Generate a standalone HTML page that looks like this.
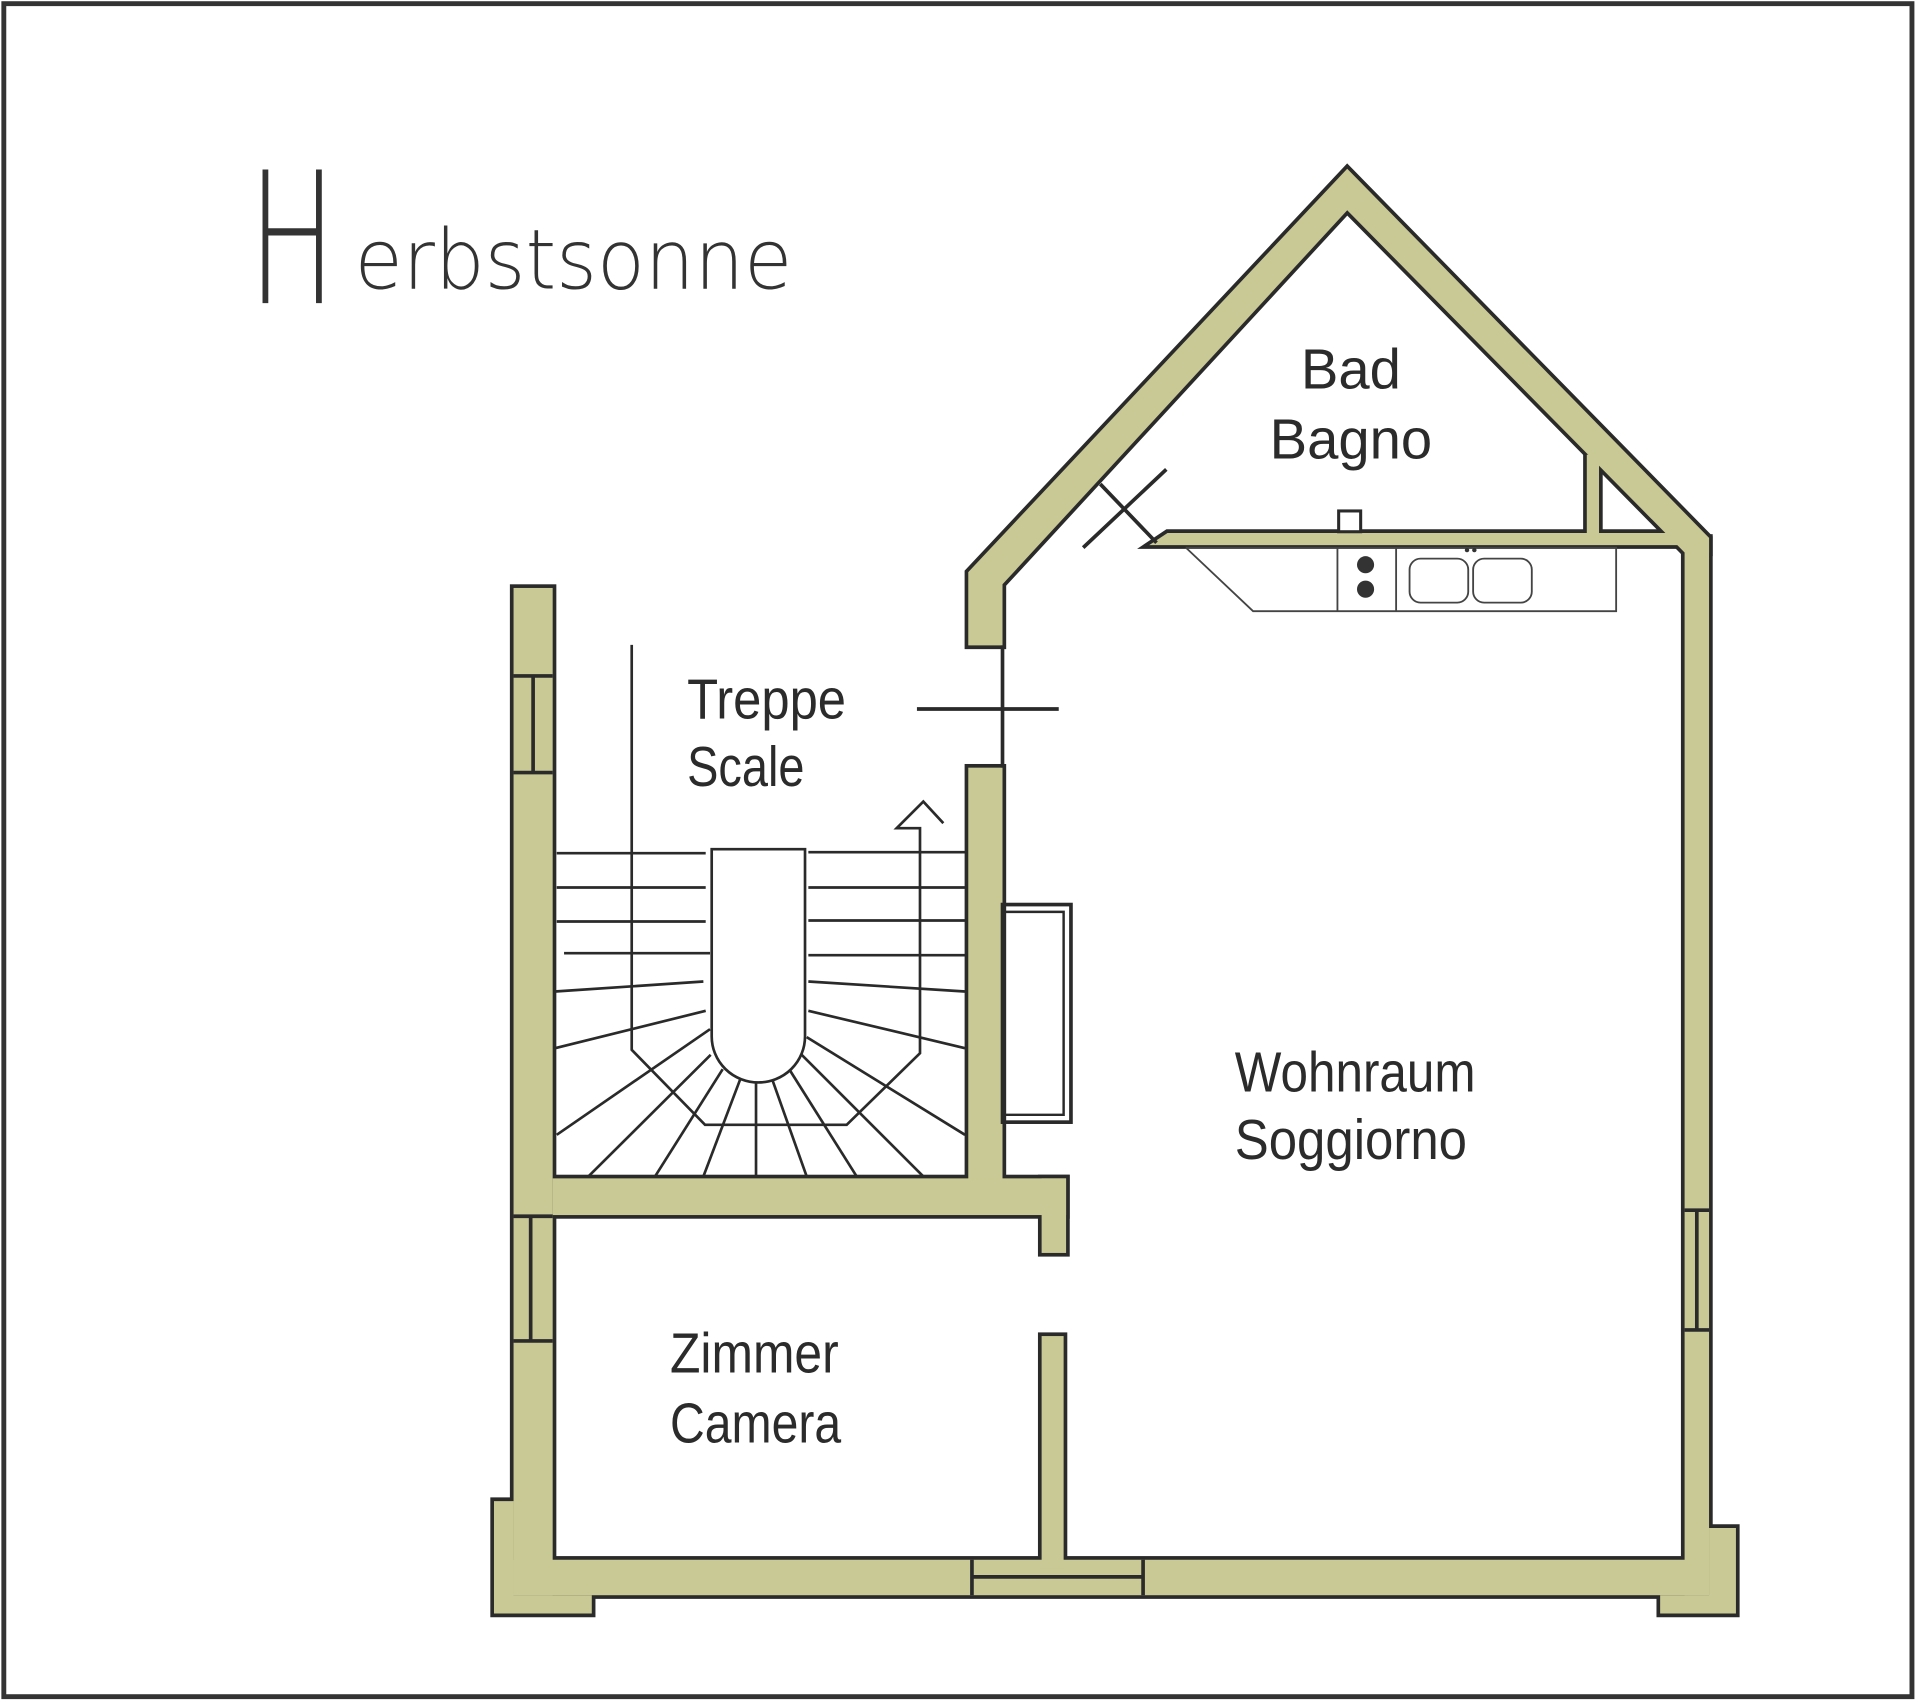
<!DOCTYPE html>
<html><head><meta charset="utf-8"><style>
html,body{margin:0;padding:0;background:#fff;}
svg{display:block;}
.lbl{font-family:"Liberation Sans Narrow","Liberation Sans",sans-serif;font-size:46px;fill:#2b2b2b;}
</style></head><body>
<svg width="1917" height="1704" viewBox="0 0 1568 1394" xmlns="http://www.w3.org/2000/svg">
<rect x="0" y="0" width="1568" height="1394" fill="#fff"/>
<rect x="3" y="3" width="1561" height="1385" fill="none" stroke="#333" stroke-width="4"/>

<!-- title -->
<text x="203" y="248" font-family="DejaVu Sans,Liberation Sans,sans-serif" font-weight="200" font-size="150" textLength="72" lengthAdjust="spacingAndGlyphs" fill="#333">H</text>
<text x="290" y="236" font-family="DejaVu Sans,Liberation Sans,sans-serif" font-weight="200" font-size="68" textLength="358" lengthAdjust="spacingAndGlyphs" fill="#333">erbstsonne</text>

<!-- walls: outline pass -->
<g stroke="#2a2a2a" stroke-width="6" fill="#2a2a2a" stroke-linejoin="miter">
  <rect x="420" y="481" width="32" height="824"/>
  <polygon points="404,1228 420,1228 420,1305 484,1305 484,1320 404,1320"/>
  <rect x="420" y="1276" width="978" height="29"/>
  <polygon points="1358,1305 1398,1305 1398,1250 1420,1250 1420,1320 1358,1320"/>
  <rect x="1378" y="440" width="20" height="865"/>
  <polygon points="792,468 1102,138 1398,440 1398,452 1378,452 1102,172 820,478 820,528 792,528"/>
  <rect x="792" y="628" width="28" height="350"/>
  <rect x="452" y="964" width="420" height="30"/>
  <rect x="852" y="964" width="20" height="61"/>
  <rect x="852" y="1093" width="18" height="190"/>
  <polygon points="955,436 1378,436 1378,446 940,446"/>
  <rect x="1298" y="372" width="10" height="70"/>
</g>
<!-- walls: fill pass -->
<g fill="#c9c995">
  <rect x="420" y="481" width="32" height="824"/>
  <polygon points="404,1228 420,1228 420,1305 484,1305 484,1320 404,1320"/>
  <rect x="420" y="1276" width="978" height="29"/>
  <polygon points="1358,1305 1398,1305 1398,1250 1420,1250 1420,1320 1358,1320"/>
  <rect x="1378" y="440" width="20" height="865"/>
  <polygon points="792,468 1102,138 1398,440 1398,452 1378,452 1102,172 820,478 820,528 792,528"/>
  <rect x="792" y="628" width="28" height="350"/>
  <rect x="452" y="964" width="420" height="30"/>
  <rect x="852" y="964" width="20" height="61"/>
  <rect x="852" y="1093" width="18" height="190"/>
  <polygon points="955,436 1378,436 1378,446 940,446"/>
  <rect x="1298" y="372" width="10" height="70"/>
</g>

<g stroke="#2a2a2a" stroke-width="3" fill="none">
  <line x1="420" y1="553" x2="452" y2="553"/><line x1="420" y1="632" x2="452" y2="632"/><line x1="436" y1="553" x2="436" y2="632"/>
  <line x1="420" y1="995" x2="452" y2="995"/><line x1="420" y1="1097" x2="452" y2="1097"/><line x1="434" y1="995" x2="434" y2="1097"/>
  <line x1="1378" y1="990" x2="1398" y2="990"/><line x1="1378" y1="1088" x2="1398" y2="1088"/><line x1="1388" y1="990" x2="1388" y2="1088"/>
  <line x1="795" y1="1276" x2="795" y2="1305"/><line x1="935" y1="1276" x2="935" y2="1305"/><line x1="795" y1="1290" x2="935" y2="1290"/>
  <line x1="750" y1="580" x2="866" y2="580"/>
  <line x1="820" y1="528" x2="820" y2="628"/>
  <line x1="886" y1="448" x2="954" y2="384"/>
  <line x1="900" y1="396" x2="946" y2="444"/>
  <rect x="820" y="740" width="56" height="178"/>
  <polyline points="822,746 870,746 870,912 822,912" stroke-width="2"/>
  <rect x="1095" y="418" width="18" height="17" fill="#fff" stroke-width="2.5"/>
</g>

<!-- kitchen -->
<g stroke="#444" stroke-width="1.5" fill="none">
  <polyline points="970,448 1322,448 1322,500 1025,500 970,448"/>
  <line x1="1094" y1="448" x2="1094" y2="500"/>
  <line x1="1142" y1="448" x2="1142" y2="500"/>
  <rect x="1153" y="457" width="48" height="36" rx="9"/>
  <rect x="1205" y="457" width="48" height="36" rx="9"/>
</g>
<circle cx="1117" cy="462" r="7" fill="#333"/>
<circle cx="1117" cy="482" r="7" fill="#333"/>
<circle cx="1200" cy="450" r="1.8" fill="#333"/><circle cx="1206" cy="450" r="1.8" fill="#333"/>

<!-- stairs -->
<g transform="scale(0.81794) translate(540,820) scale(0.33333)" stroke="#2a2a2a" stroke-width="8" fill="none">
  <line x1="50" y1="100" x2="497" y2="100"/><line x1="50" y1="203" x2="497" y2="203"/><line x1="50" y1="305" x2="497" y2="305"/><line x1="72" y1="400" x2="510" y2="400"/>
  <line x1="805" y1="97" x2="1275" y2="97"/><line x1="805" y1="203" x2="1275" y2="203"/><line x1="805" y1="302" x2="1275" y2="302"/><line x1="805" y1="406" x2="1275" y2="406"/>
  <line x1="45" y1="515" x2="490" y2="485"/><line x1="45" y1="685" x2="497" y2="573"/>
  <line x1="805" y1="485" x2="1275" y2="515"/><line x1="805" y1="573" x2="1275" y2="685"/>
  <line x1="510" y1="628" x2="50" y2="945"/><line x1="512" y1="705" x2="145" y2="1070"/>
  <line x1="548" y1="748" x2="345" y2="1070"/><line x1="600" y1="780" x2="490" y2="1070"/>
  <line x1="648" y1="790" x2="648" y2="1070"/><line x1="697" y1="780" x2="800" y2="1070"/>
  <line x1="750" y1="752" x2="950" y2="1070"/><line x1="785" y1="705" x2="1150" y2="1070"/>
  <line x1="800" y1="652" x2="1275" y2="945"/>
  <path d="M515,88 L795,88 L795,650 A140,138 0 0 1 515,650 Z" fill="#fff"/>
  <polyline points="275,-525 275,690 495,915 920,915 1140,700 1140,25 1070,25 1150,-55 1210,10"/>
</g>

<!-- labels -->
<text class="lbl" x="1105" y="318" text-anchor="middle">Bad</text>
<text class="lbl" x="1105" y="375" text-anchor="middle">Bagno</text>
<text class="lbl" x="562" y="588" textLength="130" lengthAdjust="spacingAndGlyphs">Treppe</text>
<text class="lbl" x="562" y="643" textLength="96" lengthAdjust="spacingAndGlyphs">Scale</text>
<text class="lbl" x="1010" y="893" textLength="197" lengthAdjust="spacingAndGlyphs">Wohnraum</text>
<text class="lbl" x="1010" y="948" textLength="190" lengthAdjust="spacingAndGlyphs">Soggiorno</text>
<text class="lbl" x="548" y="1123" textLength="138" lengthAdjust="spacingAndGlyphs">Zimmer</text>
<text class="lbl" x="548" y="1180" textLength="140" lengthAdjust="spacingAndGlyphs">Camera</text>
</svg>
</body></html>
